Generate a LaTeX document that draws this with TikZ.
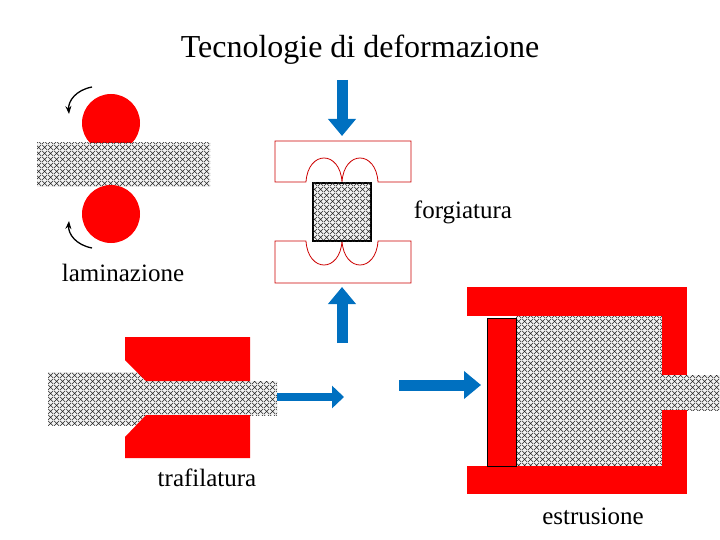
\documentclass[tikz,border=0pt]{standalone}
\usepackage{fontspec}
\setmainfont{Liberation Serif}
\usetikzlibrary{patterns,arrows.meta}
\pgfdeclarepatternformonly{diaggrid}{\pgfpointorigin}{\pgfpoint{6pt}{6pt}}{\pgfpoint{6pt}{6pt}}{
 \pgfsetlinewidth{0.6pt}
 \pgfpathmoveto{\pgfpoint{0pt}{0pt}}\pgfpathlineto{\pgfpoint{6pt}{6pt}}
 \pgfpathmoveto{\pgfpoint{0pt}{6pt}}\pgfpathlineto{\pgfpoint{6pt}{0pt}}
 \pgfusepath{stroke}}
\definecolor{bl}{RGB}{0,112,192}
\tikzset{
 hatch/.style={fill=gray!10,postaction={pattern=diaggrid,pattern color=black!85}},
 die/.style={draw=red!80!black,line width=0.8pt,fill=white},
 bigarrow/.style={draw=bl,line width=11pt,-{Triangle[length=17pt,width=27pt]}},
 midarrow/.style={draw=bl,line width=8pt,-{Triangle[length=12pt,width=22pt]}},
 rot/.style={line width=1.3pt,-{Stealth[length=8pt]}},
 lbl/.style={font=\fontsize{25}{27}\selectfont,inner sep=0pt}
}
\begin{document}
\begin{tikzpicture}[x=1pt,y=-1pt]
\useasboundingbox (0,0) rectangle (720,540);
\node[font=\fontsize{32}{34}\selectfont] (title) at (360,50) {Tecnologie di deformazione};
% laminazione
\fill[red] (111,123) circle (29);
\path[hatch] (37,143) rectangle (210,187);
\fill[red] (111,214) circle (29);
\draw[rot] (92,87) .. controls (76,90) and (68,101) .. (69,114);
\draw[rot] (92,248) .. controls (76,245) and (68,234) .. (69,221);
\node[lbl] (lam) at (123,273) {laminazione};
% forgiatura
\draw[bigarrow] (342,80) -- (342,136);
\draw[die] (306,182) -- (275,182) -- (275,141) -- (411,141) -- (411,182) -- (378,182)
  .. controls (376,150) and (344,150) .. (342,182)
  .. controls (340,150) and (308,150) .. (306,182);
\draw[die] (306,241) -- (275,241) -- (275,283) -- (411,283) -- (411,241) -- (378,241)
  .. controls (376,273) and (344,273) .. (342,241)
  .. controls (340,273) and (308,273) .. (306,241);
\path[hatch,draw=black,line width=2.5pt] (313,183) rectangle (371,241);
\draw[bigarrow] (342,343) -- (342,287);
\node[lbl] (forg) at (463,212) {forgiatura};
% trafilatura
\path[hatch] (48,372) rectangle (145,425);
\path[hatch] (140,381) rectangle (277,415);
\fill[red] (125,337) -- (250,337) -- (250,381) -- (146,381) -- (125,360) -- cycle;
\fill[red] (125,458) -- (250,458) -- (250,415) -- (146,415) -- (125,437) -- cycle;
\draw[midarrow] (277,397) -- (344,397);
\node[lbl] (traf) at (207,478) {trafilatura};
% estrusione
\draw[bigarrow] (399,385) -- (481,385);
\path[hatch] (516,316) rectangle (662,466);
\path[hatch] (662,375) rectangle (720,410);
\fill[red] (467,287) rectangle (687,316);
\fill[red] (662,316) rectangle (687,375);
\fill[red] (662,410) rectangle (687,466);
\fill[red] (467,466) rectangle (687,494);
\path[fill=red,draw=black,line width=0.6pt] (487,318) rectangle (516,466);
\node[lbl] (estr) at (593,516) {estrusione};
\end{tikzpicture}
\end{document}
